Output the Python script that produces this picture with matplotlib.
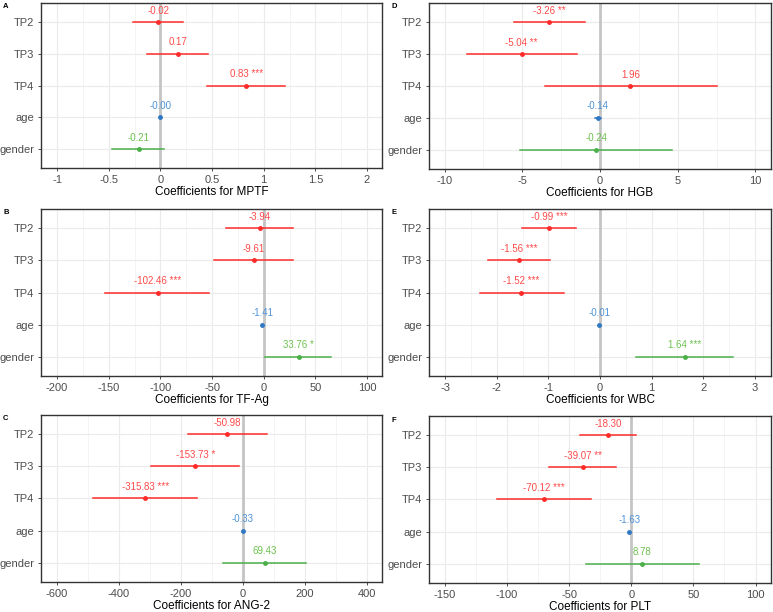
import matplotlib
matplotlib.use("Agg")
import matplotlib.pyplot as plt
from matplotlib.ticker import MultipleLocator, FuncFormatter

plt.rcParams['font.family'] = ['Liberation Sans', 'DejaVu Sans']
plt.rcParams['axes.unicode_minus'] = False

# row order top -> bottom
terms = ['TP2', 'TP3', 'TP4', 'age', 'gender']
term_colors = ['#ff2a2a', '#ff2a2a', '#ff2a2a', '#2f78c4', '#4cb04a']
text_colors = ['#ff4a4a', '#ff4a4a', '#ff4a4a', '#4f93d8', '#6cc24f']

# panel A: MPTF
mptf_est = [-0.02, 0.17, 0.83, -0.00, -0.21]
mptf_lo = [-0.26, -0.13, 0.455, -0.005, -0.47]
mptf_hi = [0.22, 0.465, 1.21, 0.005, 0.04]
mptf_sig = ['', '', '***', '', '']

# panel B: TF-Ag
tfag_est = [-3.94, -9.61, -102.46, -1.41, 33.76]
tfag_lo = [-36.4, -48.0, -153.2, -1.6, 1.6]
tfag_hi = [28.0, 28.0, -52.6, -1.2, 65.5]
tfag_sig = ['', '', '***', '', '*']

# panel C: ANG-2
ang2_est = [-50.98, -153.73, -315.83, -0.33, 69.43]
ang2_lo = [-177.4, -296.8, -483.9, -0.6, -65.6]
ang2_hi = [76.3, -12.0, -148.4, -0.1, 203.0]
ang2_sig = ['', '*', '***', '', '']

# panel D: HGB
hgb_est = [-3.26, -5.04, 1.96, -0.14, -0.24]
hgb_lo = [-5.55, -8.56, -3.55, -0.35, -5.16]
hgb_hi = [-0.97, -1.5, 7.5, 0.07, 4.62]
hgb_sig = ['**', '**', '', '', '']

# panel E: WBC
wbc_est = [-0.99, -1.56, -1.52, -0.01, 1.64]
wbc_lo = [-1.515, -2.16, -2.33, -0.02, 0.70]
wbc_hi = [-0.47, -0.96, -0.70, 0.00, 2.57]
wbc_sig = ['***', '***', '***', '', '***']

# panel F: PLT
plt_est = [-18.30, -39.07, -70.12, -1.63, 8.78]
plt_lo = [-41.2, -66.0, -108.1, -2.0, -36.1]
plt_hi = [4.1, -12.2, -32.0, -1.3, 54.4]
plt_sig = ['', '**', '***', '', '']

panels = [
    # letter, name, est, lo, hi, sig, xlim, major step, axes box in px (left, top, right, bottom)
    ('A', 'MPTF', mptf_est, mptf_lo, mptf_hi, mptf_sig, (-1.155, 2.145), 0.5, (41, 3, 382, 168)),
    ('B', 'TF-Ag', tfag_est, tfag_lo, tfag_hi, tfag_sig, (-215.5, 114.5), 50, (41, 209, 382, 376)),
    ('C', 'ANG-2', ang2_est, ang2_lo, ang2_hi, ang2_sig, (-651.6, 448), 200, (41, 415, 382, 582)),
    ('D', 'HGB', hgb_est, hgb_lo, hgb_hi, hgb_sig, (-11.0, 11.0), 5, (429, 3, 771, 169)),
    ('E', 'WBC', wbc_est, wbc_lo, wbc_hi, wbc_sig, (-3.31, 3.31), 1, (429, 209, 771, 376)),
    ('F', 'PLT', plt_est, plt_lo, plt_hi, plt_sig, (-162.6, 112.4), 50, (429, 416, 771, 583)),
]

W, H = 773, 612
fig = plt.figure(figsize=(W / 100, H / 100), dpi=100)
fig.patch.set_facecolor('white')

fmt = FuncFormatter(lambda v, p: '%g' % round(v, 6))

for letter, name, est, lo, hi, sig, xlim, major, (l, t, r, b) in panels:
    ax = fig.add_axes([l / W, 1 - b / H, (r - l) / W, (b - t) / H])
    ys = list(range(len(terms)))
    ax.set_xlim(*xlim)
    ax.set_ylim(len(terms) - 0.4, -0.6)
    ax.xaxis.set_major_locator(MultipleLocator(major))
    ax.xaxis.set_minor_locator(MultipleLocator(major / 2))
    ax.xaxis.set_major_formatter(fmt)
    ax.set_yticks(ys)
    ax.set_yticklabels(terms)
    ax.grid(True, which='major', color='#ebebeb', linewidth=0.8)
    ax.grid(True, which='minor', axis='x', color='#f2f2f2', linewidth=0.6)
    ax.set_axisbelow(True)
    # reference line at zero
    ax.axvline(0, color='#c4c4c4', linewidth=2.0, zorder=2)
    for i in ys:
        ax.plot([lo[i], hi[i]], [i, i], color=term_colors[i], linewidth=1.1, zorder=3)
        ax.plot(est[i], i, 'o', color=term_colors[i], markersize=2.5, zorder=4)
        lab = '%.2f' % est[i]
        if sig[i]:
            lab += ' ' + sig[i]
        ax.text(est[i], i - 0.36, lab, color=text_colors[i], fontsize=7,
                ha='center', va='center', zorder=5)
    for s in ax.spines.values():
        s.set_color('#333333')
        s.set_linewidth(1.0)
    ax.tick_params(axis='both', which='major', labelsize=8, labelcolor='#4d4d4d',
                   color='#333333', length=2.5, width=0.6, pad=2.5)
    ax.tick_params(axis='x', which='minor', length=0)
    ax.set_xlabel('Coefficients for ' + name, fontsize=8.5, color='black', labelpad=1.0)
    fig.text((l - 38) / W, 1 - (t + 4) / H, letter, fontsize=5.5, fontweight='bold',
             ha='left', va='center')

fig.savefig('out.png', dpi=100, facecolor='white')
